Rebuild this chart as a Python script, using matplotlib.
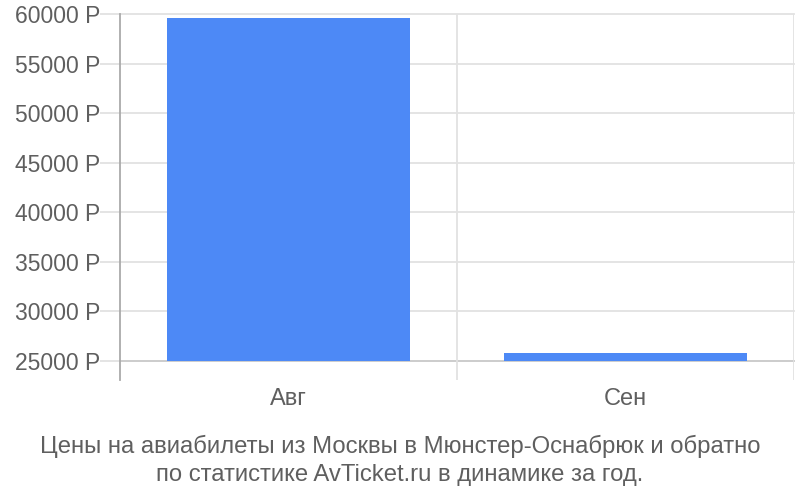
import numpy as np
import matplotlib.pyplot as plt

plt.rcParams['font.family'] = ['Liberation Sans', 'DejaVu Sans']

# data
months = ['Авг', 'Сен']
prices = [59550, 25800]
yticks = [25000, 30000, 35000, 40000, 45000, 50000, 55000, 60000]
base = 25000

fig = plt.figure(figsize=(8, 5), dpi=100)
ax = fig.add_axes([0.15, 0.24, 0.8425, 0.732])

x = np.arange(len(months))
ax.bar(x, np.array(prices) - base, bottom=base, width=0.72, color='#4d89f6', zorder=3)

ax.set_xlim(-0.5, 1.5)
ax.set_ylim(23090, 60000)

# horizontal grid
ax.set_yticks(yticks)
ax.set_yticklabels([f'{v} Р' for v in yticks])
for v in yticks:
    c = '#c8c8c8' if v == base else '#e2e2e2'
    ax.axhline(v, color=c, lw=1.3, zorder=1, clip_on=False)

# vertical lines between categories
for b in [0.5, 1.5]:
    ax.axvline(b, color='#e2e2e2', lw=1.3, zorder=1)

ax.set_xticks(x)
ax.set_xticklabels(months)

for s in ['top', 'right', 'bottom']:
    ax.spines[s].set_visible(False)
ax.spines['left'].set_color('#aaaaaa')
ax.spines['left'].set_linewidth(1.3)

ax.tick_params(axis='y', length=14.4, color='#e2e2e2', width=1.3, pad=0,
               labelsize=16.5, labelcolor='#5f5f5f')
ax.tick_params(axis='x', length=0, pad=6, labelsize=17, labelcolor='#5f5f5f')

fig.text(0.5, 0.107, 'Цены на авиабилеты из Москвы в Мюнстер-Оснабрюк и обратно',
         ha='center', va='center', fontsize=17.2, color='#5f5f5f')
fig.text(0.5, 0.049, 'по статистике AvTicket.ru в динамике за год.',
         ha='center', va='center', fontsize=17.2, color='#5f5f5f')

fig.savefig('out.png', dpi=100)
